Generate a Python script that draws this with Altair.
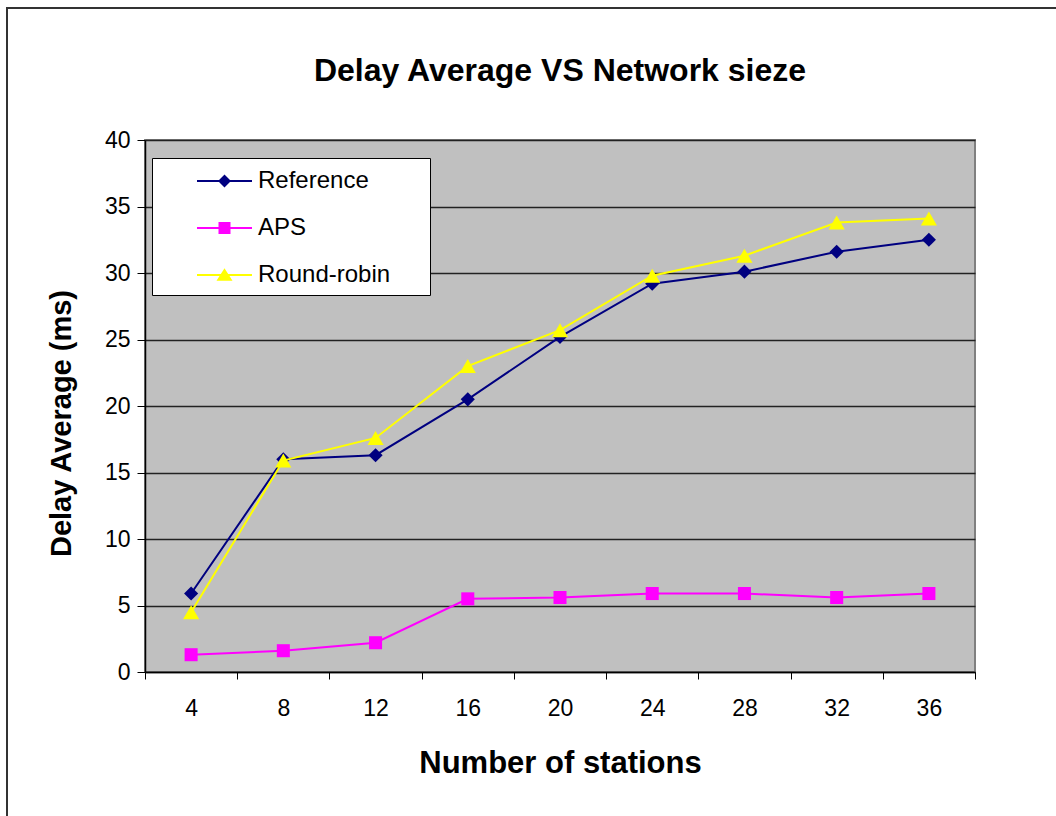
import altair as alt
import pandas as pd

# Average delay per network size for each scheduling scheme
stations = [4, 8, 12, 16, 20, 24, 28, 32, 36]
reference = [5.9, 16.0, 16.3, 20.5, 25.2, 29.2, 30.1, 31.6, 32.5]
aps = [1.3, 1.6, 2.2, 5.5, 5.6, 5.9, 5.9, 5.6, 5.9]
round_robin = [4.5, 15.9, 17.6, 23.0, 25.7, 29.8, 31.3, 33.8, 34.1]

series_names = ["Reference", "APS", "Round-robin"]
series_colors = ["#000080", "#FF00FF", "#FFFF00"]
marker_shapes = ["diamond", "square", "triangle-up"]
marker_sizes = [200, 170, 260]

# legend glyphs: a short line with the series marker on it; the two
# hair-thin specks only widen the glyph's bounds so the legend box is roomier
_pad = "M-1,0h0.001v0.001h-0.001Z M16.4,0h0.001v0.001h-0.001Z "
_line = "M1.467,-0.067H5.133V0.067H1.467Z "
legend_glyphs = [
    _pad + _line + "M2.867,0L3.3,-0.433L3.733,0L3.3,0.433Z",
    _pad + _line + "M2.9,-0.4H3.7V0.4H2.9Z",
    _pad + _line + "M3.3,-0.45L3.833,0.38L2.767,0.38Z",
]

rows = []
for name, values in zip(series_names, [reference, aps, round_robin]):
    for s, v in zip(stations, values):
        rows.append({"stations": s, "delay": v, "series": name})
df = pd.DataFrame(rows)

FONT = "Liberation Sans"

x_enc = alt.X(
    "stations:O",
    sort="ascending",
    bandPosition=0.5,
    scale=alt.Scale(type="band", paddingInner=0, paddingOuter=0),
    axis=alt.Axis(
        title="Number of stations",
        labelAngle=0,
        tickBand="extent",
        grid=False,
        tickSize=7,
        labelPadding=18,
        titlePadding=28,
        titleFontSize=31,
    ),
)
y_enc = alt.Y(
    "delay:Q",
    scale=alt.Scale(domain=[0, 40], nice=False),
    axis=alt.Axis(
        title="Delay Average (ms)",
        values=list(range(0, 45, 5)),
        tickSize=8,
        labelPadding=7,
        titlePadding=28,
        titleFontSize=29,
        titleY=283,
        grid=True,
    ),
)

legend_spec = alt.Legend(
    title=None,
    orient="none",
    legendX=7,
    legendY=18,
    fillColor="white",
    strokeColor="black",
    padding=8,
    rowPadding=20,
    labelFontSize=24,
    labelFont=FONT,
    labelColor="black",
    labelOffset=68,
    symbolSize=900,
    symbolStrokeWidth=0,
    symbolOpacity=1,
)

base = alt.Chart(df)

# one line + marker layer per series
series_layers = []
for name, color, shape, size in zip(series_names, series_colors, marker_shapes, marker_sizes):
    part = base.transform_filter(alt.datum.series == name)
    series_layers.append(
        part.mark_line(strokeWidth=2, color=color).encode(x=x_enc, y=y_enc)
    )
    series_layers.append(
        part.mark_point(filled=True, opacity=1, shape=shape, size=size, color=color)
        .encode(x=x_enc, y=y_enc)
    )

# legend-only layer: draws no marks, carries the color + glyph legend
legend_layer = (
    base.transform_filter("false")
    .mark_point(filled=True, opacity=1, size=900)
    .encode(
        x=x_enc,
        y=y_enc,
        color=alt.Color(
            "series:N",
            scale=alt.Scale(domain=series_names, range=series_colors),
            legend=legend_spec,
        ),
        shape=alt.Shape(
            "series:N",
            scale=alt.Scale(domain=series_names, range=legend_glyphs),
            legend=legend_spec,
        ),
    )
)

# outer chart frame (left and top edges fall inside the page)
frame = base.mark_rect(
    fill=None, stroke="#333333", strokeWidth=2, clip=False
).encode(
    x=alt.value(-138), x2=alt.value(1000), y=alt.value(-132), y2=alt.value(800)
)

chart = (
    alt.layer(frame, *series_layers, legend_layer)
    .properties(
        width=830,
        height=532,
        title=alt.Title(
            "Delay Average VS Network sieze",
            fontSize=32,
            font=FONT,
            fontWeight="bold",
            color="black",
            anchor="middle",
            frame="group",
            offset=0,
            dy=81,
        ),
        autosize=alt.AutoSizeParams(type="none"),
        padding={"left": 145, "top": 140, "right": 81, "bottom": 144},
        background="white",
    )
    .configure_view(fill="#C0C0C0", stroke="#808080", strokeWidth=2)
    .configure_axis(
        labelFont=FONT,
        labelFontSize=23,
        labelColor="black",
        titleFont=FONT,
        titleFontWeight="bold",
        titleColor="black",
        domainColor="black",
        domainWidth=1.5,
        tickColor="black",
        tickWidth=1,
        gridColor="#222222",
        gridWidth=1.5,
    )
)

chart.save("out.html", embed_options={"renderer": "svg", "actions": False})
